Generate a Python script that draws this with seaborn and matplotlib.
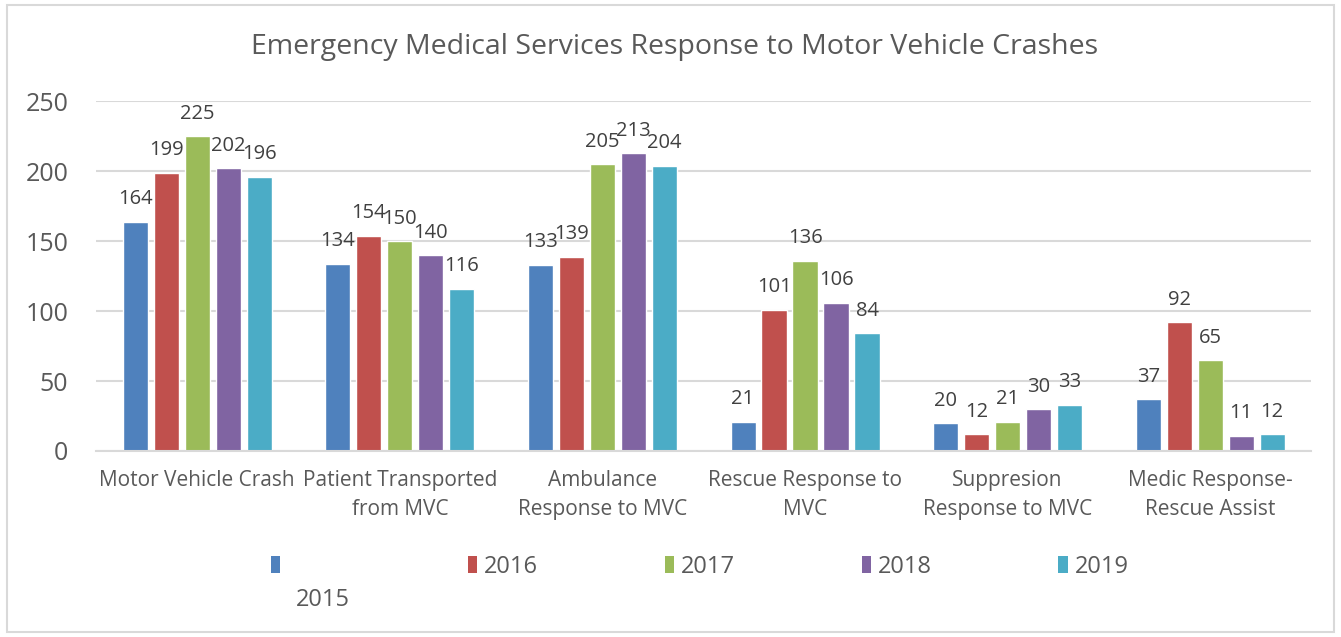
import matplotlib
matplotlib.use("Agg")
import matplotlib.pyplot as plt
from matplotlib.patches import Rectangle, Patch
import seaborn as sns
import pandas as pd

# ── Data ──────────────────────────────────────────────────────────────────────
categories = [
    "Motor Vehicle Crash",
    "Patient Transported\nfrom MVC",
    "Ambulance\nResponse to MVC",
    "Rescue Response to\nMVC",
    "Suppresion\nResponse to MVC",
    "Medic Response-\nRescue Assist",
]
years = ["2015", "2016", "2017", "2018", "2019"]
v2015 = [164, 134, 133, 21, 20, 37]
v2016 = [199, 154, 139, 101, 12, 92]
v2017 = [225, 150, 205, 136, 21, 65]
v2018 = [202, 140, 213, 106, 30, 11]
v2019 = [196, 116, 204, 84, 33, 12]
colors = ["#4F81BD", "#C0504D", "#9BBB59", "#8064A2", "#4BACC6"]

series = dict(zip(years, [v2015, v2016, v2017, v2018, v2019]))
df = pd.DataFrame(
    [(c, y, v) for y, vals in series.items() for c, v in zip(categories, vals)],
    columns=["category", "year", "value"],
)

# ── Style ─────────────────────────────────────────────────────────────────────
sns.set_style("white")
plt.rcParams["font.family"] = ["Open Sans", "DejaVu Sans"]
TXT = "#595959"
GRID = "#D9D9D9"

fig = plt.figure(figsize=(13.41, 6.37), dpi=100)
ax = fig.add_axes([0.0716, 0.292, 0.9064, 0.549])

sns.barplot(
    data=df, x="category", y="value", hue="year",
    hue_order=years, order=categories, palette=colors,
    width=0.765, gap=0.19, errorbar=None, saturation=1,
    legend=False, ax=ax,
)

for cont in ax.containers:
    ax.bar_label(cont, padding=9, fontsize=14.5, color="#404040")

ax.set_ylim(0, 250)
ax.set_yticks(range(0, 251, 50))
ax.yaxis.grid(True, color=GRID, linewidth=1.5)
ax.set_axisbelow(True)
ax.set_xlabel("")
ax.set_ylabel("")
for s in ["top", "right", "left"]:
    ax.spines[s].set_visible(False)
ax.spines["bottom"].set_color(GRID)
ax.spines["bottom"].set_linewidth(1.5)
ax.tick_params(axis="y", length=0, pad=20, labelsize=18, labelcolor=TXT)
ax.tick_params(axis="x", length=0, pad=14, labelsize=15, labelcolor=TXT)
for lbl in ax.get_xticklabels():
    lbl.set_linespacing(1.45)

fig.text(0.503, 0.926, "Emergency Medical Services Response to Motor Vehicle Crashes",
         ha="center", va="center", fontsize=20.5, color=TXT)

# legend: first label sits below its marker, as in the source chart
handles = [Patch(facecolor=c, edgecolor="none") for c in colors]
labels = ["\u2007" * 4] + years[1:]
fig.legend(handles, labels, loc="center", bbox_to_anchor=(0.522, 0.11),
           ncol=5, frameon=False, fontsize=17, labelcolor=TXT,
           handlelength=0.4, handleheight=0.75, handletextpad=0.3,
           columnspacing=5.35)
fig.text(0.241, 0.058, years[0], ha="center", va="center", fontsize=17, color=TXT)

fig.patches.append(Rectangle((0.005, 0.008), 0.99, 0.984, transform=fig.transFigure,
                             fill=False, edgecolor=GRID, linewidth=1.5))

fig.savefig("out.png", dpi=100)
